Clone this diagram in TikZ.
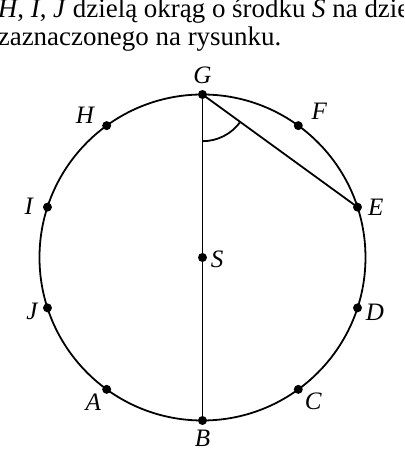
\documentclass[tikz,border=0pt]{standalone}
\usepackage{fontspec}
\setmainfont{Liberation Serif}

\begin{document}
\begin{tikzpicture}[
  pt/.style={circle, fill=black, inner sep=0pt, minimum size=0.22cm},
  lbl/.style={inner sep=0pt, font=\fontsize{17.5}{21}\selectfont\itshape},
  seg/.style={line width=1.25pt, black},
  txt/.style={inner sep=0pt, anchor=base west, font=\fontsize{18.8}{22}\selectfont},
]
\useasboundingbox (-4.969,-4.994) rectangle (4.945,6.319);
\clip (-4.969,-4.994) rectangle (4.945,6.319);

% tekst nad rysunkiem
\node (line1) [txt] at (-5.028, 5.894)
  {\textit{H}, \textit{I}, \textit{J} dzielą okrąg o środku \textit{S} na dziesięć};
\node (line2) [txt] at (-5.028, 5.190) {zaznaczonego na rysunku.};

\draw[seg] (0,0) circle (4);

\node (S) [pt] at (0,0) {};
\node (lblS) [lbl] at ([xshift=0.361cm, yshift=-0.056cm]S.center) {S};

\foreach \name/\ang/\dx/\dy in {G/90/0/0.466, F/54/0.515/0.344, E/18/0.449/0,
    D/-18/0.425/-0.098, C/-54/0.368/-0.302, B/-90/0/-0.434, A/-126/-0.326/-0.326,
    J/-162/-0.383/-0.098, I/162/-0.459/0.025, H/126/-0.533/0.263} {
  \node (\name) [pt] at (\ang:4) {};
  \node (lbl\name) [lbl] at ([xshift=\dx cm, yshift=\dy cm]\name.center) {\name};
}

\draw[seg] (G.center) -- (B.center);
\draw[seg] (G.center) -- (E.center);
\draw[seg]
  ([yshift=-1.146cm]G.center) arc[start angle=-90, end angle=-36, radius=1.146cm];
\end{tikzpicture}
\end{document}
